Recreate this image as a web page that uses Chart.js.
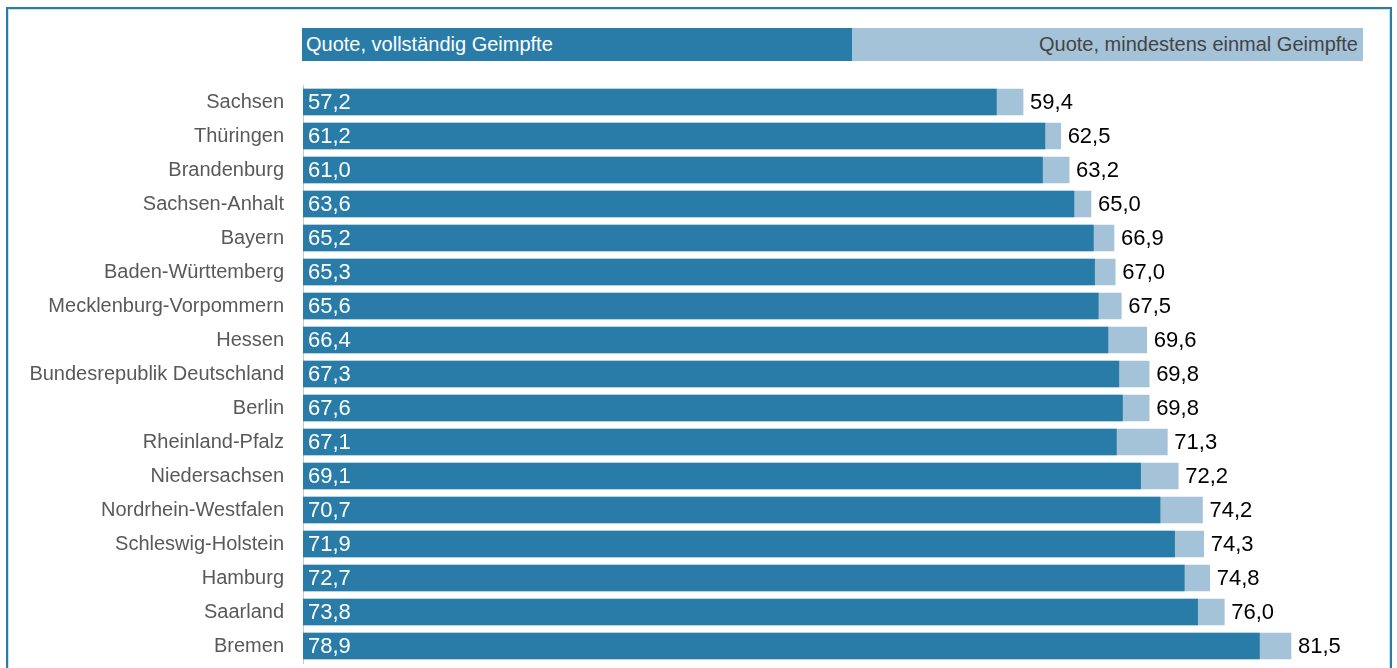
<!DOCTYPE html>
<html lang="de">
<head>
<meta charset="utf-8">
<script src="https://cdn.jsdelivr.net/npm/chart.js@4/dist/chart.umd.min.js"></script>
<style>
  html, body { margin: 0; padding: 0; background: #fff; }
  body { width: 1397px; height: 668px; position: relative; overflow: hidden; font-family: "Liberation Sans", Arial, sans-serif; }
  #frame { position: absolute; left: 6px; top: 7px; width: 1382px; height: 700px; border: 2px solid #2a7ca8; border-bottom: none; box-shadow: inset 0 0 0 1px #cfe0ec; }
  .leg { position: absolute; top: 28px; height: 33px; line-height: 33px; font-size: 20px; box-sizing: border-box; white-space: nowrap; }
  #legDark { left: 302px; width: 550px; background: #2a7ca8; color: #fff; padding-left: 4px; }
  #legLight { left: 852px; width: 511px; background: #a4c2d8; color: #444; text-align: right; padding-right: 5px; }
  canvas { position: absolute; left: 0; top: 0; }
</style>
</head>
<body>
<div id="frame"></div>
<div id="legDark" class="leg">Quote, vollständig Geimpfte</div>
<div id="legLight" class="leg">Quote, mindestens einmal Geimpfte</div>
<canvas id="c" width="1397" height="668"></canvas>
<script>
// Impfquoten je Bundesland (in Prozent)
const laender = [
  "Sachsen", "Thüringen", "Brandenburg", "Sachsen-Anhalt", "Bayern",
  "Baden-Württemberg", "Mecklenburg-Vorpommern", "Hessen",
  "Bundesrepublik Deutschland", "Berlin", "Rheinland-Pfalz", "Niedersachsen",
  "Nordrhein-Westfalen", "Schleswig-Holstein", "Hamburg", "Saarland", "Bremen",
];
const vollstaendig = [57.2, 61.2, 61.0, 63.6, 65.2, 65.3, 65.6, 66.4, 67.3, 67.6, 67.1, 69.1, 70.7, 71.9, 72.7, 73.8, 78.9];
const einmal = [59.4, 62.5, 63.2, 65.0, 66.9, 67.0, 67.5, 69.6, 69.8, 69.8, 71.3, 72.2, 74.2, 74.3, 74.8, 76.0, 81.5];

const FARBE = { dunkel: "#2a7ca8", hell: "#a4c2d8" };
const FONT = '"Liberation Sans", Arial, sans-serif';
const fmt = v => v.toFixed(1).replace(".", ",");

// Werte: dunkler Balken innen links (weiss), heller Balken rechts daneben (schwarz)
const werte = {
  id: "werte",
  afterDatasetsDraw(chart) {
    const { ctx } = chart;
    ctx.save();
    ctx.font = "22px " + FONT;
    ctx.textBaseline = "middle";
    const dunkel = chart.getDatasetMeta(0).data;
    const hell = chart.getDatasetMeta(1).data;
    dunkel.forEach((bar, i) => {
      ctx.fillStyle = "#fff";
      ctx.textAlign = "left";
      ctx.fillText(fmt(vollstaendig[i]), bar.base + 5, bar.y + 1);
      ctx.fillStyle = "#000";
      ctx.fillText(fmt(einmal[i]), hell[i].x + 7, bar.y + 1);
    });
    ctx.restore();
  },
};

new Chart(document.getElementById("c"), {
  type: "bar",
  data: {
    labels: laender,
    datasets: [
      { label: "Quote, vollständig Geimpfte", data: vollstaendig, backgroundColor: FARBE.dunkel, grouped: false, barThickness: 26 },
      { label: "Quote, mindestens einmal Geimpfte", data: einmal, backgroundColor: FARBE.hell, grouped: false, barThickness: 26 },
    ],
  },
  options: {
    indexAxis: "y",
    responsive: false,
    animation: false,
    layout: { padding: { top: 85, bottom: 5, right: 3, left: 0 } },
    plugins: { legend: { display: false }, tooltip: { enabled: false } },
    scales: {
      x: { display: false, min: 0, max: 90 },
      y: {
        // feste Achsenbreite, keine Zusatzabstände oben/unten
        afterFit: s => { s.width = 303; s.paddingTop = 0; s.paddingBottom = 0; },
        grid: { display: false },
        border: { display: true, color: "#c8c8c8", width: 1 },
        ticks: { color: "#595959", font: { family: FONT, size: 20 }, padding: 11 },
      },
    },
  },
  plugins: [werte],
});
</script>
</body>
</html>
